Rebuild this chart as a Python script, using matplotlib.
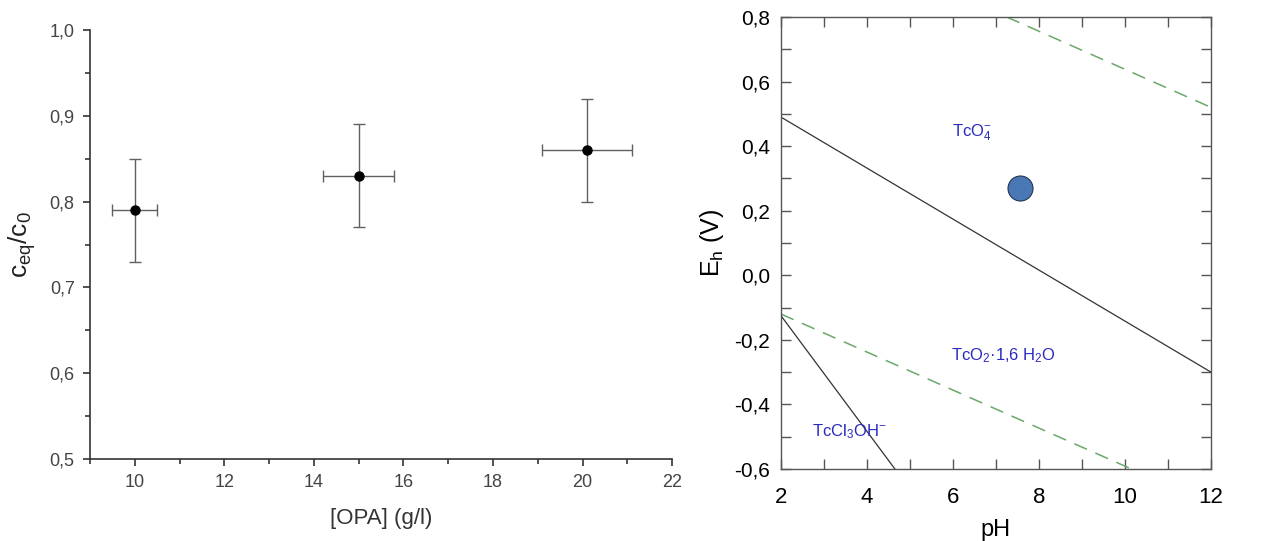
import matplotlib
matplotlib.use("Agg")
import matplotlib.pyplot as plt
from matplotlib.ticker import MultipleLocator, FuncFormatter

plt.rcParams['font.family'] = ['Liberation Sans', 'DejaVu Sans']
plt.rcParams['mathtext.fontset'] = 'custom'
plt.rcParams['mathtext.rm'] = 'Liberation Sans'
plt.rcParams['mathtext.it'] = 'Liberation Sans:italic'

# --- Sorption data: OPA concentration vs. c_eq/c_0 ---
opa_conc = [10.0, 15.0, 20.1]
opa_conc_err = [0.5, 0.8, 1.0]
ratio = [0.79, 0.83, 0.86]
ratio_err = [0.06, 0.06, 0.06]

# --- Pourbaix diagram boundaries (pH, Eh in V) ---
o2_line_ph = [7.25, 12.0]
o2_line_eh = [0.80, 0.52]
h2_line_ph = [2.0, 10.15]
h2_line_eh = [-0.12, -0.60]
tco4_tco2_ph = [2.0, 12.0]
tco4_tco2_eh = [0.49, -0.30]
tcl_tco2_ph = [2.0, 4.65]
tcl_tco2_eh = [-0.125, -0.60]

measured_ph = [7.56]
measured_eh = [0.27]

species_labels = [r"TcO$_4^{-}$", r"TcO$_2$·1,6 H$_2$O", r"TcCl$_3$OH$^{-}$"]
species_ph = [6.45, 7.17, 3.6]
species_eh = [0.44, -0.25, -0.485]

comma = FuncFormatter(lambda v, p: f"{v:.1f}".replace(".", ","))

fig = plt.figure(figsize=(12.69, 5.41), dpi=100)

# Left panel
ax1 = fig.add_axes([0.0709, 0.1516, 0.4587, 0.7929])
ax1.errorbar(opa_conc, ratio, xerr=opa_conc_err, yerr=ratio_err, fmt='o',
             color='black', ms=6.5, ecolor='#606060', elinewidth=1.0,
             capsize=4, capthick=1.0)
ax1.set_xlim(9, 22)
ax1.set_ylim(0.5, 1.0)
ax1.xaxis.set_major_locator(MultipleLocator(2))
ax1.xaxis.set_minor_locator(MultipleLocator(1))
ax1.yaxis.set_major_locator(MultipleLocator(0.1))
ax1.yaxis.set_minor_locator(MultipleLocator(0.05))
ax1.yaxis.set_major_formatter(comma)
for s in ['top', 'right']:
    ax1.spines[s].set_visible(False)
for s in ['left', 'bottom']:
    ax1.spines[s].set_color('#333333')
    ax1.spines[s].set_linewidth(1.2)
ax1.tick_params(which='major', direction='out', length=5, width=1.2,
                colors='#333333', labelsize=13, labelcolor='#444444', pad=6)
ax1.tick_params(which='minor', direction='out', length=3.5, width=1.2, colors='#333333')
ax1.set_xlabel("[OPA] (g/l)", fontsize=16, color='#333333', labelpad=12)
ax1.set_ylabel(r"c$_{\mathrm{eq}}$/c$_0$", fontsize=19, color='#222222', labelpad=8)

# Right panel
ax2 = fig.add_axes([0.6154, 0.1331, 0.3389, 0.8355])
ax2.plot(o2_line_ph, o2_line_eh, color='#6aa86a', lw=1.1, dashes=(9, 6))
ax2.plot(h2_line_ph, h2_line_eh, color='#6aa86a', lw=1.1, dashes=(9, 6))
ax2.plot(tco4_tco2_ph, tco4_tco2_eh, color='#333333', lw=0.9)
ax2.plot(tcl_tco2_ph, tcl_tco2_eh, color='#333333', lw=0.9)
ax2.plot(measured_ph, measured_eh, 'o', ms=18, mfc='#4a78b5', mec='#223355', mew=0.8)
for lab, x, y in zip(species_labels, species_ph, species_eh):
    ax2.text(x, y, lab, color='#2a2ac0', fontsize=12, ha='center', va='center')
ax2.set_xlim(2, 12)
ax2.set_ylim(-0.6, 0.8)
ax2.xaxis.set_major_locator(MultipleLocator(2))
ax2.xaxis.set_minor_locator(MultipleLocator(1))
ax2.yaxis.set_major_locator(MultipleLocator(0.2))
ax2.yaxis.set_minor_locator(MultipleLocator(0.1))
ax2.yaxis.set_major_formatter(comma)
for s in ax2.spines.values():
    s.set_color('#555555')
    s.set_linewidth(1.0)
ax2.tick_params(which='both', direction='in', length=7, width=1.0, colors='#555555',
                top=True, right=True, labelsize=15, labelcolor='black', pad=8)
ax2.tick_params(axis='x', which='major', labelsize=16, pad=13)
ax2.set_xlabel("pH", fontsize=17, labelpad=8)
ax2.set_ylabel(r"E$_\mathrm{h}$ (V)", fontsize=18, labelpad=6)

fig.savefig("out.png", dpi=100)
